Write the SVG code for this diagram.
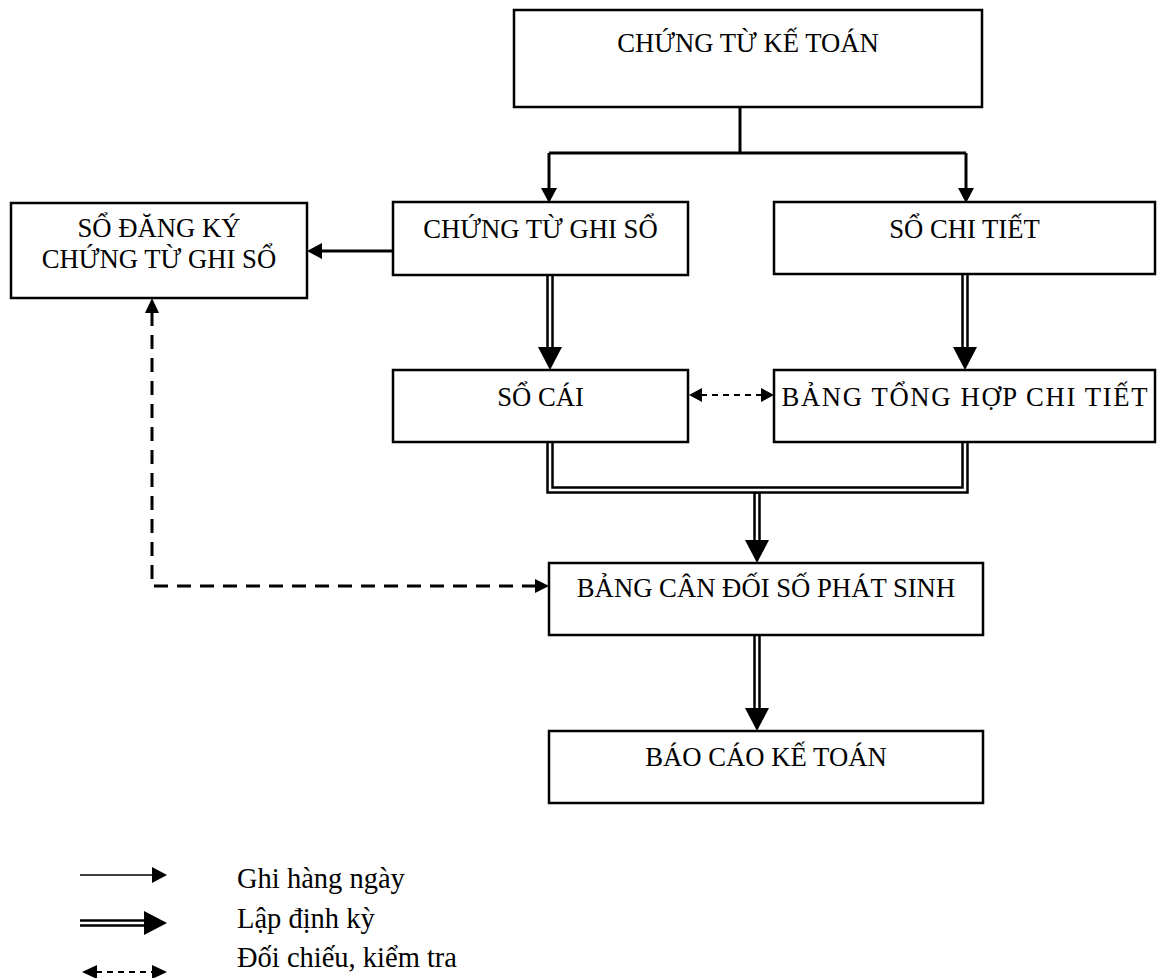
<svg xmlns="http://www.w3.org/2000/svg" width="1157" height="978" viewBox="0 0 1157 978">
  <style>
    .box { fill: #fff; stroke: #000; stroke-width: 2.5; }
    .lbl { font-family: "Liberation Serif", "Times New Roman", serif; font-size: 26.7px; fill: #000; text-anchor: middle; }
    .leg { font-family: "Liberation Serif", "Times New Roman", serif; font-size: 28.5px; fill: #000; }
    .solid { fill: none; stroke: #000; stroke-width: 3; }
    .dblOut { fill: none; stroke: #000; stroke-width: 7.5; }
    .dblIn { fill: none; stroke: #fff; stroke-width: 2.5; }
    .dash { fill: none; stroke: #000; stroke-width: 3; stroke-dasharray: 14 9; }
    .dashSm { fill: none; stroke: #000; stroke-width: 2; stroke-dasharray: 6 5; }
    .head { fill: #000; stroke: none; }
  </style>
  <rect width="1157" height="978" fill="#fff"/>

  <g id="connectors">
    <!-- daily entries: solid lines -->
    <path class="solid" d="M740,107 V153 M549,153 H966 M549,153 V190 M966,153 V190"/>
    <polygon class="head" points="541,188 557,188 549,203"/>
    <polygon class="head" points="958,188 974,188 966,203"/>
    <path class="solid" d="M393,251 H318"/>
    <polygon class="head" points="322,243 322,259 307,251"/>

    <!-- periodic: double lines -->
    <path class="dblOut" d="M550,275 V348 M965,274 V348 M757,492 V541 M757,635 V709"/>
    <path class="dblIn" d="M550,275 V349 M965,274 V349 M757,494 V542 M757,636 V710"/>
    <path class="dblOut" d="M550,442 V490 H965 V442"/>
    <path class="dblIn" d="M550,442 V490 H965 V442"/>
    <polygon class="head" points="538,347 562,347 550,370"/>
    <polygon class="head" points="953,347 977,347 965,370"/>
    <polygon class="head" points="745,540 769,540 757,563"/>
    <polygon class="head" points="745,708 769,708 757,731"/>

    <!-- cross-check: dashed lines -->
    <path class="dashSm" d="M701,395 H762"/>
    <polygon class="head" points="689,395 702,388 702,402"/>
    <polygon class="head" points="774,395 761,388 761,402"/>
    <path class="dash" d="M152,312 V586 H536"/>
    <polygon class="head" points="152,298 145,313 159,313"/>
    <polygon class="head" points="549,586 535,579 535,593"/>
  </g>

  <g id="chung-tu-ke-toan">
    <rect class="box" x="514" y="10" width="468" height="97"/>
    <text class="lbl" x="748" y="52">CHỨNG TỪ KẾ TOÁN</text>
  </g>
  <g id="so-dang-ky">
    <rect class="box" x="11" y="203" width="296" height="95"/>
    <text class="lbl" x="159" y="237">SỔ ĐĂNG KÝ</text>
    <text class="lbl" x="159" y="268">CHỨNG TỪ GHI SỔ</text>
  </g>
  <g id="chung-tu-ghi-so">
    <rect class="box" x="393" y="202" width="295" height="73"/>
    <text class="lbl" x="540.5" y="238">CHỨNG TỪ GHI SỔ</text>
  </g>
  <g id="so-chi-tiet">
    <rect class="box" x="774" y="202" width="381" height="72"/>
    <text class="lbl" x="964.5" y="238">SỔ CHI TIẾT</text>
  </g>
  <g id="so-cai">
    <rect class="box" x="393" y="370" width="295" height="72"/>
    <text class="lbl" x="540.5" y="406">SỔ CÁI</text>
  </g>
  <g id="bang-tong-hop-chi-tiet">
    <rect class="box" x="774" y="370" width="381" height="72"/>
    <text class="lbl" x="964.5" y="406" textLength="366" lengthAdjust="spacing">BẢNG TỔNG HỢP CHI TIẾT</text>
  </g>
  <g id="bang-can-doi">
    <rect class="box" x="549" y="563" width="434" height="72"/>
    <text class="lbl" x="766" y="597">BẢNG CÂN ĐỐI SỐ PHÁT SINH</text>
  </g>
  <g id="bao-cao-ke-toan">
    <rect class="box" x="549" y="731" width="434" height="72"/>
    <text class="lbl" x="766" y="766">BÁO CÁO KẾ TOÁN</text>
  </g>

  <g id="legend">
    <path fill="none" stroke="#000" stroke-width="1.5" d="M80,875 H154"/>
    <polygon class="head" points="152,867 152,883 167,875"/>
    <path fill="none" stroke="#000" stroke-width="7.5" d="M80,923 H146"/>
    <path fill="none" stroke="#fff" stroke-width="2.5" d="M79,923 H146"/>
    <polygon class="head" points="144,911 144,935 167,923"/>
    <path class="dashSm" d="M96,972 H153"/>
    <polygon class="head" points="82,972 97,965 97,979"/>
    <polygon class="head" points="167,972 152,965 152,979"/>
    <text class="leg" x="237" y="888">Ghi hàng ngày</text>
    <text class="leg" x="237" y="928">Lập định kỳ</text>
    <text class="leg" x="237" y="967">Đối chiếu, kiểm tra</text>
  </g>
</svg>
